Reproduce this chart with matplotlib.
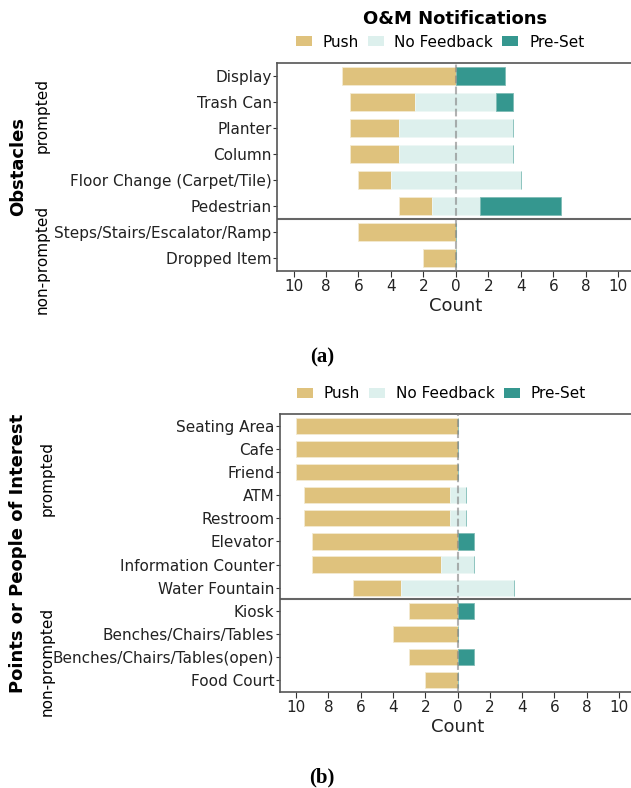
import numpy as np
import matplotlib.pyplot as plt
from matplotlib.patches import Patch

# panel (a) obstacles
obs_labels = ["Display", "Trash Can", "Planter", "Column", "Floor Change (Carpet/Tile)",
              "Pedestrian", "Steps/Stairs/Escalator/Ramp", "Dropped Item"]
obs_push = [7, 4, 3, 3, 2, 2, 6, 2]
obs_nofb = [0, 5, 7, 7, 8, 3, 0, 0]
obs_preset = [3, 1, 0, 0, 0, 5, 0, 0]
obs_n_prompted = 6

# panel (b) points or people of interest
poi_labels = ["Seating Area", "Cafe", "Friend", "ATM", "Restroom", "Elevator",
              "Information Counter", "Water Fountain", "Kiosk", "Benches/Chairs/Tables",
              "Benches/Chairs/Tables(open)", "Food Court"]
poi_push = [10, 10, 10, 9, 9, 9, 8, 3, 3, 4, 3, 2]
poi_nofb = [0, 0, 0, 1, 1, 0, 2, 7, 0, 0, 0, 0]
poi_preset = [0, 0, 0, 0, 0, 1, 0, 0, 1, 0, 1, 0]
poi_n_prompted = 8

series_names = ["Push", "No Feedback", "Pre-Set"]
colors = ["#dfc27d", "#ddf0ed", "#35978f"]
xticks = np.arange(-10, 11, 2)

W, H = 631, 788
fig = plt.figure(figsize=(W / 100, H / 100), dpi=100)


def px_axes(left, top, right, bottom):
    return fig.add_axes([left / W, 1 - bottom / H, (right - left) / W, (bottom - top) / H])


def draw_panel(ax, labels, push, nofb, preset, n_prompted):
    push = np.array(push, dtype=float)
    nofb = np.array(nofb, dtype=float)
    preset = np.array(preset, dtype=float)
    y = np.arange(len(labels))
    # push goes left, no feedback sits across zero, pre-set goes right
    ax.barh(y, push, left=-(push + nofb / 2), height=0.7, color=colors[0],
            edgecolor="#f3ead2", linewidth=0.6)
    ax.barh(y, nofb, left=-nofb / 2, height=0.7, color=colors[1],
            edgecolor="#eef7f5", linewidth=0.6)
    ax.barh(y, preset, left=nofb / 2, height=0.7, color=colors[2],
            edgecolor="#7fbcb6", linewidth=0.6)
    ax.axvline(0, color="gray", linestyle="--", linewidth=1.5, alpha=0.6, zorder=3)
    ax.axhline(n_prompted - 0.5, color="#666666", linewidth=1.5)
    ax.set_xlim(-11, 11)
    ax.set_ylim(len(labels) - 0.5, -0.5)
    ax.set_yticks(y)
    ax.set_yticklabels(labels, fontsize=11, color="#222222")
    ax.set_xticks(xticks)
    ax.set_xticklabels([str(abs(v)) for v in xticks], fontsize=11, color="#222222")
    ax.tick_params(axis="y", length=3, pad=1, color="#333333")
    ax.tick_params(axis="x", length=4, pad=2, color="#333333")
    ax.set_xlabel("Count", fontsize=13, labelpad=2, color="#222222")
    for s in ax.spines.values():
        s.set_color("#555555")
        s.set_linewidth(1.2)
    handles = [Patch(facecolor=c, edgecolor="none") for c in colors]
    axw = ax.get_position().width * W
    axh = ax.get_position().height * H
    ax.legend(handles, series_names, loc="center",
              bbox_to_anchor=(0.5 - 16 / axw, 1 + 20.5 / axh),
              ncol=3, frameon=False, fontsize=11, handlelength=1.05, handleheight=0.65,
              handletextpad=0.7, columnspacing=0.6, borderpad=0)


ax1 = px_axes(277.3, 62.7, 634.5, 271)
draw_panel(ax1, obs_labels, obs_push, obs_nofb, obs_preset, obs_n_prompted)

ax2 = px_axes(280, 414.3, 635.2, 691.7)
draw_panel(ax2, poi_labels, poi_push, poi_nofb, poi_preset, poi_n_prompted)

fig.text(455 / W, 1 - 19 / H, "O&M Notifications", fontsize=13, fontweight="bold",
         ha="center", va="center")

# group labels on the left
fig.text(18 / W, 1 - 167 / H, "Obstacles", fontsize=13, fontweight="bold",
         rotation=90, ha="center", va="center")
fig.text(42 / W, 1 - 115.5 / H, "prompted", fontsize=11, rotation=90, ha="center", va="center")
fig.text(42 / W, 1 - 259 / H, "non-prompted", fontsize=11, rotation=90, ha="center", va="center")

fig.text(18 / W, 1 - 553 / H, "Points or People of Interest", fontsize=13, fontweight="bold",
         rotation=90, ha="center", va="center")
fig.text(47 / W, 1 - 478 / H, "prompted", fontsize=11, rotation=90, ha="center", va="center")
fig.text(47 / W, 1 - 661 / H, "non-prompted", fontsize=11, rotation=90, ha="center", va="center")

# captions
fig.text(322 / W, 1 - 357 / H, "(a)", fontsize=15, fontweight="bold",
         family="Liberation Serif", ha="center", va="center")
fig.text(322 / W, 1 - 777 / H, "(b)", fontsize=15, fontweight="bold",
         family="Liberation Serif", ha="center", va="center")

fig.savefig("out.png", dpi=100)
